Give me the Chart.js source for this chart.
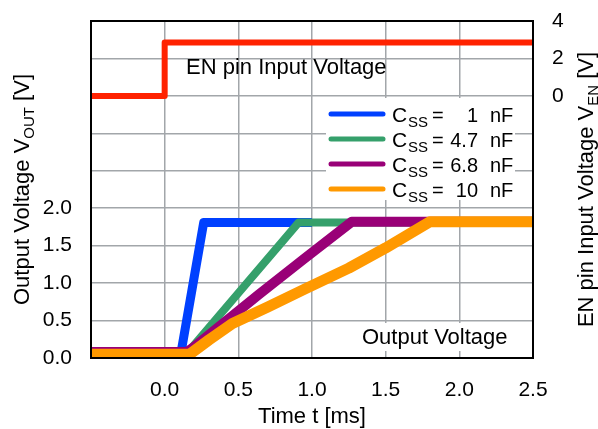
<!DOCTYPE html>
<html>
<head>
<meta charset="utf-8">
<script src="https://cdn.jsdelivr.net/npm/chart.js@4.4.1/dist/chart.umd.min.js"></script>
<style>
  html, body { margin: 0; padding: 0; background: #fff; }
  #wrap { width: 598px; height: 429px; }
</style>
</head>
<body>
<div id="wrap"><canvas id="chart" width="598" height="429"></canvas></div>
<script>
// Soft-start: EN pin step and output voltage for several C_SS values

const FONT = "'Liberation Sans', Arial, sans-serif";

// EN pin input voltage (right axis)
const timeEn = [-0.5, 0.0, 0.0, 2.5];
const voltEn = [0.0, 0.0, 2.85, 2.85];

// Output voltage for each soft-start capacitor (left axis)
const time1nF = [-0.5, 0.11, 0.265, 1.0];
const vout1nF = [0.06, 0.06, 1.81, 1.81];

const time4n7F = [-0.5, 0.15, 0.91, 2.5];
const vout4n7F = [0.06, 0.06, 1.81, 1.81];

const time6n8F = [-0.5, 0.15, 0.2, 0.64, 0.95, 1.27, 2.5];
const vout6n8F = [0.08, 0.08, 0.15, 0.85, 1.33, 1.82, 1.82];

const time10nF = [-0.5, 0.17, 0.3, 0.46, 0.7, 0.95, 1.25, 1.5, 1.8, 2.5];
const vout10nF = [0.05, 0.05, 0.24, 0.46, 0.68, 0.92, 1.2, 1.47, 1.82, 1.82];

const capValues = ['1', '4.7', '6.8', '10'];
const capColors = ['#0040ff', '#35a06b', '#990077', '#ff9900'];

// tick labels (blank = gridline only)
const xTickLabels = ['', '0.0', '0.5', '1.0', '1.5', '2.0', '2.5'];
const yTickLabels = ['0.0', '0.5', '1.0', '1.5', '2.0', '', '', '', '', ''];
const y2TickLabels = ['', '', '', '', '', '', '', '0', '2', '4'];

const toPoints = (xs, ys) => xs.map((x, i) => ({ x: x, y: ys[i] }));

function trace(label, xs, ys, color, width, order, axis) {
  return {
    label: label,
    data: toPoints(xs, ys),
    borderColor: color,
    backgroundColor: color,
    borderWidth: width,
    pointRadius: 0,
    tension: 0,
    borderJoinStyle: 'round',
    yAxisID: axis || 'y',
    order: order
  };
}

// draw text made of normal + subscript parts
function richText(ctx, parts, x, y, align) {
  const big = '22px ' + FONT, small = '15px ' + FONT;
  let total = 0;
  parts.forEach(p => { ctx.font = p.sub ? small : big; total += ctx.measureText(p.t).width; });
  let cx = align === 'center' ? x - total / 2 : x;
  ctx.textAlign = 'left';
  ctx.textBaseline = 'alphabetic';
  parts.forEach(p => {
    ctx.font = p.sub ? small : big;
    ctx.fillText(p.t, cx, p.sub ? y + 5 : y);
    cx += ctx.measureText(p.t).width;
  });
}

const decor = {
  id: 'decor',
  afterDatasetsDraw(chart) {
    const { ctx, chartArea: a } = chart;
    ctx.save();
    ctx.fillStyle = '#000';

    // annotations
    ctx.font = '22px ' + FONT;
    ctx.textAlign = 'left';
    ctx.textBaseline = 'alphabetic';
    ctx.fillText('EN pin Input Voltage', 186, 74);

    ctx.fillStyle = '#fff';
    ctx.fillRect(356, 323, 158, 28);
    ctx.fillStyle = '#000';
    ctx.fillText('Output Voltage', 362, 344);

    // legend
    ctx.fillStyle = '#fff';
    ctx.fillRect(326, 98, 189, 102);
    capValues.forEach((v, i) => {
      const ly = 114 + i * 25;
      ctx.strokeStyle = capColors[i];
      ctx.lineWidth = 5;
      ctx.lineCap = 'round';
      ctx.beginPath();
      ctx.moveTo(331, ly);
      ctx.lineTo(383, ly);
      ctx.stroke();
      ctx.fillStyle = '#000';
      ctx.font = '21px ' + FONT;
      ctx.textAlign = 'left';
      ctx.fillText('C', 392, ly + 8);
      ctx.font = '15px ' + FONT;
      ctx.fillText('SS', 408, ly + 13);
      ctx.font = '20px ' + FONT;
      ctx.fillText('=', 432, ly + 8);
      ctx.textAlign = 'right';
      ctx.fillText(v, 478, ly + 8);
      ctx.textAlign = 'left';
      ctx.fillText('nF', 490, ly + 8);
    });

    // frame
    ctx.strokeStyle = '#000';
    ctx.lineWidth = 2;
    ctx.strokeRect(a.left, a.top, a.right - a.left, a.bottom - a.top);

    // axis titles
    ctx.fillStyle = '#000';
    richText(ctx, [{ t: 'Time t [ms]' }], (a.left + a.right) / 2, 423, 'center');

    const midY = (a.top + a.bottom) / 2;
    ctx.save();
    ctx.translate(29, midY);
    ctx.rotate(-Math.PI / 2);
    richText(ctx, [{ t: 'Output Voltage V' }, { t: 'OUT', sub: true }, { t: ' [V]' }], 0, 0, 'center');
    ctx.restore();

    ctx.save();
    ctx.translate(593, midY);
    ctx.rotate(-Math.PI / 2);
    richText(ctx, [{ t: 'EN pin Input Voltage V' }, { t: 'EN', sub: true }, { t: ' [V]' }], 0, 0, 'center');
    ctx.restore();

    ctx.restore();
  }
};

const gridColor = '#a2a6aa';
const tickFont = { family: FONT, size: 21 };

new Chart(document.getElementById('chart'), {
  type: 'line',
  data: {
    datasets: [
      trace('EN', timeEn, voltEn, '#ff2200', 6, 5, 'y2'),
      trace('Css = 1 nF', time1nF, vout1nF, capColors[0], 9, 4),
      trace('Css = 4.7 nF', time4n7F, vout4n7F, capColors[1], 8, 3),
      trace('Css = 6.8 nF', time6n8F, vout6n8F, capColors[2], 10, 2),
      trace('Css = 10 nF', time10nF, vout10nF, capColors[3], 11, 1)
    ]
  },
  options: {
    responsive: false,
    animation: false,
    layout: { padding: { top: 21, left: 0, right: 0, bottom: 0 } },
    plugins: { legend: { display: false }, tooltip: { enabled: false } },
    scales: {
      x: {
        type: 'linear',
        min: -0.5, max: 2.5,
        ticks: { stepSize: 0.5, color: '#000', font: tickFont, padding: 20, maxRotation: 0,
                 callback: (v, i) => xTickLabels[i] },
        grid: { color: gridColor, lineWidth: 1.5, drawTicks: false },
        border: { display: false },
        afterFit: s => { s.height = 71; s.paddingLeft = 0; s.paddingRight = 0; }
      },
      y: {
        position: 'left',
        min: 0, max: 4.5,
        ticks: { stepSize: 0.5, color: '#000', font: tickFont, padding: 19,
                 callback: (v, i) => yTickLabels[i] },
        grid: { color: gridColor, lineWidth: 1.5, drawTicks: false },
        border: { display: false },
        afterFit: s => { s.width = 91; s.paddingTop = 0; s.paddingBottom = 0; }
      },
      y2: {
        position: 'right',
        min: -14, max: 4,
        ticks: { stepSize: 2, color: '#000', font: tickFont, padding: 19,
                 callback: (v, i) => y2TickLabels[i] },
        grid: { display: false, drawTicks: false },
        border: { display: false },
        afterFit: s => { s.width = 65; s.paddingTop = 0; s.paddingBottom = 0; }
      }
    }
  },
  plugins: [decor]
});
</script>
</body>
</html>
